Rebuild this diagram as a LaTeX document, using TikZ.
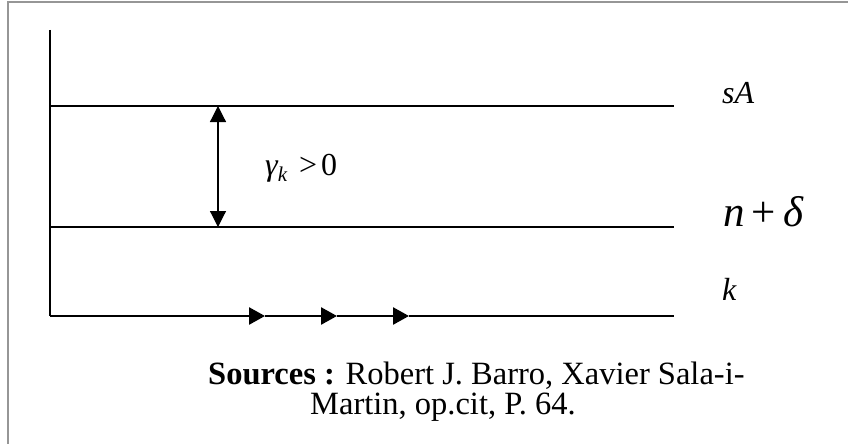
\documentclass[tikz,border=0pt]{standalone}
\usepackage{fontspec}
\setmainfont{Liberation Serif}
\usetikzlibrary{arrows.meta}
\definecolor{framegray}{RGB}{150,150,150}

\begin{document}
\begin{tikzpicture}[x=1pt,y=-1pt,
  every node/.style={inner sep=0pt,anchor=base west},
  level/.style={line width=1.4pt},
  kline/.style={line width=2.6pt},
  tri/.style={-{Triangle[length=16pt,width=17pt]}}]
\useasboundingbox (0,0) rectangle (848,444);
\draw[framegray,line width=1.2pt] (8,444) -- (8,2) -- (848,2);
% axes and the two levels
\coordinate (top) at (50,30);
\coordinate (O)   at (50,316);
\coordinate (E)   at (674,316);
\coordinate (sA0) at (50,106);
\coordinate (sA1) at (674,106);
\coordinate (nd0) at (50,227);
\coordinate (nd1) at (674,227);
\coordinate (gtop) at (218,106);
\coordinate (gbot) at (218,227);
\coordinate (a1) at (265,316);
\coordinate (a2) at (337,316);
\coordinate (a3) at (409,316);
\draw[line width=1.4pt] (top) -- (O);
\draw[level] (sA0) -- (sA1);
\draw[level] (nd0) -- (nd1);
\draw[line width=1.2pt,{Triangle[length=16pt,width=16pt]}-{Triangle[length=16pt,width=16pt]}] (gtop) -- (gbot);
\draw[kline,tri] (O) -- (a1);
\draw[kline,tri] (a1) -- (a2);
\draw[kline,tri] (a2) -- (a3);
\draw[kline] (a3) -- (E);
% labels
\node (lsA) at (722,103) {\fontsize{32}{34}\selectfont\itshape sA};
\node (lnd) at (723,226) {\fontsize{43}{45}\selectfont{\itshape n}\,+\,{\itshape δ}};
\node (lk)  at (722,300) {\fontsize{32}{34}\selectfont\itshape k};
\node (gam) at (265,175) {\fontsize{32}{34}\selectfont{\itshape γ}\raisebox{-6pt}{\fontsize{21}{21}\selectfont\itshape k}\hspace{12pt}>\hspace{4pt}0};
\node (src1) at (208,384) {\fontsize{32.5}{34}\selectfont\textbf{Sources :} Robert J. Barro, Xavier Sala-i-};
\node (src2) at (310,414) {\fontsize{32.5}{34}\selectfont Martin, op.cit, P. 64.};
\end{tikzpicture}
\end{document}
